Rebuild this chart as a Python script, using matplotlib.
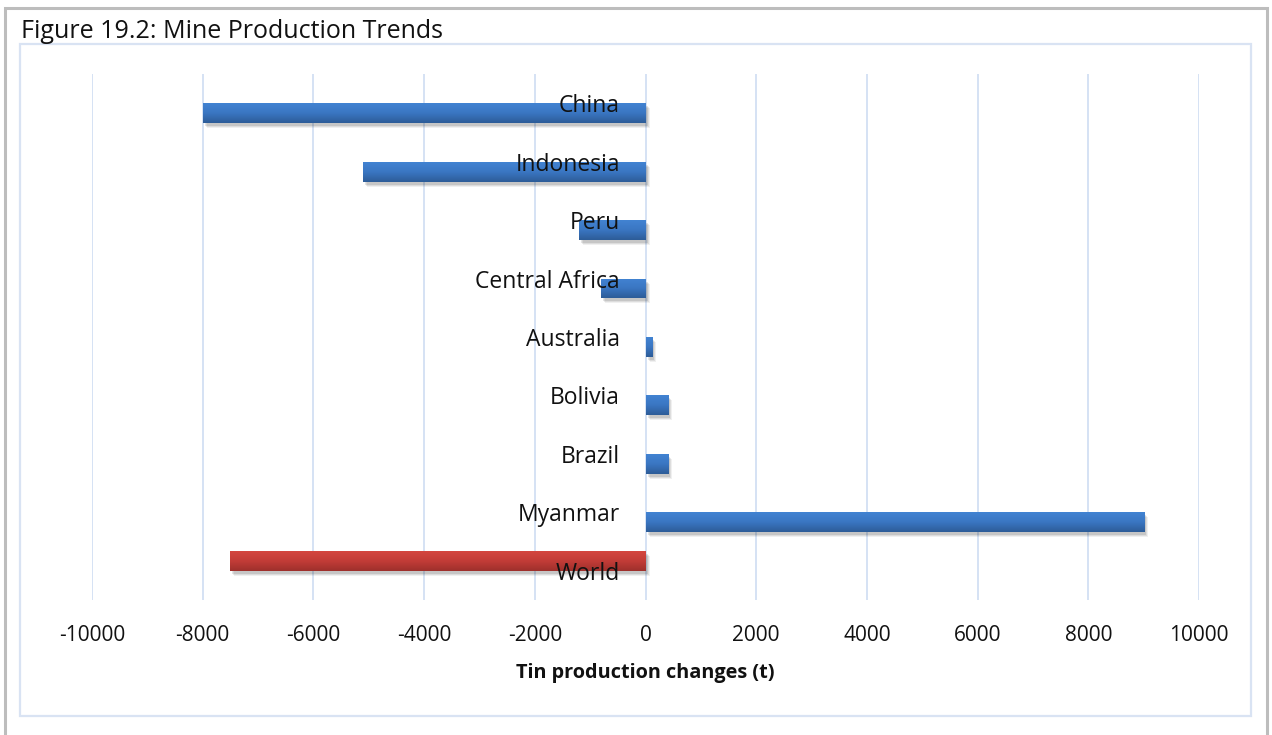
import matplotlib
matplotlib.use('Agg')
import matplotlib.pyplot as plt
import numpy as np
from matplotlib.patches import Rectangle
import matplotlib.transforms as mtransforms
from matplotlib.colors import LinearSegmentedColormap

# ---- data ----
countries = ['China', 'Indonesia', 'Peru', 'Central Africa', 'Australia',
             'Bolivia', 'Brazil', 'Myanmar', 'World']
country_changes = [-8000, -5100, -1200, -800, 120, 400, 400, 9000, 0]
world_changes = [0, 0, 0, 0, 0, 0, 0, 0, -7500]
x_ticks = list(range(-10000, 10001, 2000))
title = 'Figure 19.2: Mine Production Trends'
x_title = 'Tin production changes (t)'

plt.rcParams['font.family'] = ['Open Sans', 'DejaVu Sans']

W, H = 1272, 735
fig = plt.figure(figsize=(W / 100, H / 100), dpi=100)

# outer grey frame and inner light-blue chart-area frame
fig.patches.append(Rectangle((5 / W, -0.02), 1262 / W, (735 - 8) / H + 0.02,
                             transform=fig.transFigure, fill=False,
                             edgecolor='#bdbdbd', linewidth=2.2))
fig.patches.append(Rectangle((20 / W, 1 - 716 / H), 1231 / W, 672 / H,
                             transform=fig.transFigure, fill=False,
                             edgecolor='#d9e3f3', linewidth=1.6))

fig.text(21 / W, 1 - 32 / H, title, ha='left', va='center', fontsize=18, color='#111111')

ax = fig.add_axes([92 / W, 1 - 600 / H, (1199 - 92) / W, (600 - 74) / H])
for s in ax.spines.values():
    s.set_visible(False)

y = np.arange(len(countries))
h = 0.34
off = 0.17

blue_cmap = LinearSegmentedColormap.from_list('b', ['#4283d2', '#3a76c2', '#2d5c98'])
red_cmap = LinearSegmentedColormap.from_list('r', ['#d4463f', '#c23c37', '#9e302c'])


def draw_series(vals, pos, cmap):
    bars = ax.barh(pos, vals, height=h, color='none', edgecolor='none', zorder=3)
    for b, v in zip(bars, vals):
        if v == 0:
            continue
        x0, yb = b.get_x(), b.get_y()
        w, hh = b.get_width(), b.get_height()
        # soft shadow
        for k, a in [(0, 0.10), (1, 0.08), (2, 0.06)]:
            tr = mtransforms.offset_copy(ax.transData, fig=fig, x=2 + k, y=-3 - k, units='dots')
            ax.add_patch(Rectangle((x0, yb), w, hh, transform=tr, facecolor='#000000',
                                   alpha=a, edgecolor='none', zorder=2))
        grad = np.linspace(0, 1, 64).reshape(-1, 1)
        im = ax.imshow(grad, cmap=cmap, aspect='auto', origin='upper',
                       extent=(min(x0, x0 + w), max(x0, x0 + w), yb + hh, yb),
                       zorder=3, interpolation='bilinear')
        im.set_clip_path(b)


draw_series(country_changes, y + off, blue_cmap)
draw_series(world_changes, y - off, red_cmap)

ax.set_xlim(-10000, 10000)
ax.set_ylim(len(countries) - 0.5, -0.5)
ax.set_xticks(x_ticks)
ax.set_xticklabels([str(t) for t in x_ticks], fontsize=15, color='#111111')
ax.set_yticks([])
ax.tick_params(axis='x', length=0, pad=18)
ax.grid(axis='x', color='#d5e2f4', linewidth=1.4, zorder=0)
ax.set_axisbelow(True)
ax.set_xlabel(x_title, fontsize=14.3, fontweight='bold', labelpad=12, color='#111111')

for i, name in enumerate(countries):
    ax.annotate(name, xy=(0, i), xycoords='data', xytext=(-18.5, 0),
                textcoords='offset points', ha='right', va='center_baseline',
                fontsize=16.5, color='#111111', zorder=5)

fig.savefig('out.png', dpi=100)
